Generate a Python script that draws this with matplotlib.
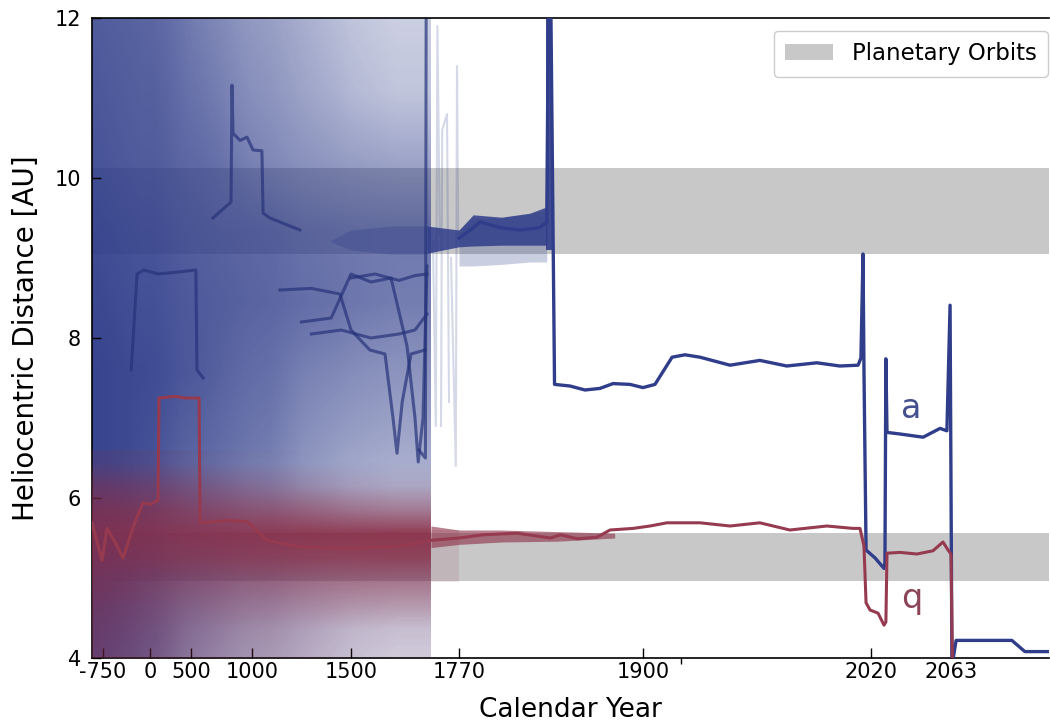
import numpy as np
import matplotlib.pyplot as plt
from matplotlib.patches import Patch
from matplotlib.colors import LinearSegmentedColormap, to_rgb

# Axis is stretched near the present: year -> pixel-ish position anchors
scale_years = [-925, -750, 0, 500, 1000, 1500, 1770, 1900, 2020, 2063, 2115]
scale_pos = [92, 103, 150, 191, 252, 351, 459, 643, 871, 951, 1049]

tick_years = [-750, 0, 500, 1000, 1500, 1770, 1900, 2020, 2063]

# Planetary orbit bands (perihelion, aphelion) [AU]
jupiter_band = (4.96, 5.56)
saturn_band = (9.05, 10.12)

# Nominal semi-major axis a
a_years = [1770, 1778, 1785, 1799, 1813, 1827, 1832, 1833.3, 1834.7, 1837.5,
           1848.4, 1859, 1869.6, 1878.8, 1890.8, 1900, 1906.3, 1911.6, 1915.3, 1922.1,
           1930, 1945.8, 1961.5, 1975.7, 1991.5, 2003.6, 2013.2, 2014.7, 2015.8, 2016.3,
           2017.4, 2022.2, 2027, 2027.5, 2028, 2028.6, 2035.6, 2048, 2057.1, 2060.8,
           2062.5, 2063.5, 2065.7, 2095.3, 2102.2, 2115]
a_vals = [9.25, 9.35, 9.45, 9.38, 9.35, 9.38, 9.45, 12.5, 12.5, 7.42,
          7.40, 7.35, 7.37, 7.43, 7.42, 7.38, 7.42, 7.62, 7.76, 7.79,
          7.76, 7.66, 7.72, 7.65, 7.69, 7.65, 7.66, 7.75, 9.05, 7.6,
          5.35, 5.25, 5.12, 5.2, 7.74, 6.82, 6.80, 6.76, 6.87, 6.84,
          8.41, 3.9, 4.22, 4.22, 4.08, 4.08]

# Nominal perihelion distance q
q_years = [-925, -765, -686, -559, -431, -240, -112, 0, 98, 110, 305, 427, 566, 574,
           820, 967, 1076, 1242, 1495, 1622, 1697, 1770, 1787, 1811, 1834.6, 1841.7,
           1853.7, 1867.5, 1876.7, 1893, 1903.7, 1912.6, 1930, 1945.8, 1961.5, 1977.3,
           1996.8, 2010.5, 2014.2, 2016.3, 2017.4, 2019.5, 2023.8, 2027, 2028, 2028.6,
           2035.6, 2044.7, 2053.3, 2058.7, 2061.4, 2063, 2064, 2115]
q_vals = [5.69, 5.22, 5.62, 5.45, 5.25, 5.7, 5.94, 5.92, 5.97, 7.25, 7.27, 7.25, 7.25, 5.69,
          5.72, 5.7, 5.47, 5.39, 5.37, 5.4, 5.47, 5.50, 5.54, 5.56, 5.5, 5.54,
          5.49, 5.51, 5.6, 5.62, 5.65, 5.69, 5.69, 5.65, 5.69, 5.6,
          5.65, 5.62, 5.62, 5.4, 4.69, 4.6, 4.56, 4.41, 4.45, 5.31,
          5.32, 5.3, 5.34, 5.45, 5.35, 5.3, 3.5, 3.5]

# Density of the clone cloud (0 = none, 1 = solid), 15 equal year columns from -925 to 1700
cloud_span = (-925, 1700)
a_cloud_au = (3.6, 12.4)     # 10 rows, bottom to top
a_density = [
    [0.90, 0.88, 0.85, 0.82, 0.78, 0.75, 0.68, 0.60, 0.54, 0.48, 0.42, 0.38, 0.31, 0.26, 0.20],
    [0.93, 0.92, 0.90, 0.87, 0.83, 0.80, 0.74, 0.68, 0.64, 0.58, 0.52, 0.48, 0.39, 0.33, 0.28],
    [0.95, 0.94, 0.92, 0.90, 0.88, 0.86, 0.80, 0.75, 0.71, 0.66, 0.60, 0.56, 0.46, 0.40, 0.34],
    [0.96, 0.95, 0.94, 0.93, 0.91, 0.90, 0.86, 0.82, 0.80, 0.76, 0.72, 0.68, 0.57, 0.51, 0.45],
    [0.96, 0.95, 0.94, 0.93, 0.93, 0.92, 0.90, 0.87, 0.85, 0.81, 0.77, 0.74, 0.65, 0.61, 0.55],
    [0.94, 0.93, 0.92, 0.91, 0.90, 0.90, 0.88, 0.86, 0.85, 0.83, 0.81, 0.79, 0.75, 0.72, 0.67],
    [0.92, 0.91, 0.90, 0.89, 0.88, 0.88, 0.86, 0.84, 0.82, 0.80, 0.79, 0.77, 0.72, 0.70, 0.68],
    [0.88, 0.87, 0.86, 0.85, 0.84, 0.84, 0.82, 0.79, 0.77, 0.73, 0.67, 0.62, 0.56, 0.52, 0.47],
    [0.86, 0.85, 0.84, 0.83, 0.82, 0.82, 0.79, 0.75, 0.71, 0.66, 0.60, 0.55, 0.47, 0.40, 0.30],
    [0.84, 0.83, 0.82, 0.81, 0.80, 0.79, 0.76, 0.71, 0.66, 0.61, 0.55, 0.50, 0.42, 0.34, 0.25],
]
q_cloud_au = (3.6, 6.6)      # 10 rows, bottom to top
q_density = [
    [0.45, 0.43, 0.40, 0.38, 0.36, 0.35, 0.31, 0.27, 0.25, 0.22, 0.20, 0.19, 0.15, 0.10, 0.07],
    [0.48, 0.46, 0.43, 0.41, 0.39, 0.38, 0.34, 0.30, 0.28, 0.25, 0.23, 0.22, 0.18, 0.13, 0.09],
    [0.52, 0.50, 0.47, 0.45, 0.43, 0.41, 0.38, 0.34, 0.31, 0.29, 0.27, 0.25, 0.21, 0.16, 0.12],
    [0.58, 0.56, 0.54, 0.52, 0.50, 0.48, 0.46, 0.44, 0.42, 0.41, 0.40, 0.39, 0.37, 0.35, 0.33],
    [0.66, 0.65, 0.63, 0.61, 0.59, 0.58, 0.56, 0.55, 0.54, 0.54, 0.53, 0.53, 0.53, 0.52, 0.52],
    [0.76, 0.76, 0.75, 0.75, 0.74, 0.74, 0.74, 0.74, 0.74, 0.75, 0.76, 0.77, 0.78, 0.78, 0.80],
    [0.82, 0.82, 0.82, 0.82, 0.82, 0.82, 0.82, 0.83, 0.84, 0.85, 0.86, 0.87, 0.88, 0.88, 0.90],
    [0.72, 0.72, 0.71, 0.70, 0.70, 0.70, 0.68, 0.66, 0.64, 0.62, 0.60, 0.58, 0.55, 0.50, 0.45],
    [0.50, 0.50, 0.48, 0.46, 0.45, 0.44, 0.42, 0.40, 0.37, 0.33, 0.30, 0.26, 0.20, 0.15, 0.10],
    [0.15, 0.15, 0.14, 0.13, 0.12, 0.12, 0.10, 0.08, 0.06, 0.04, 0.03, 0.02, 0.01, 0.00, 0.00],
]

# Narrow clone bundles (years, lower, upper, alpha)
a_bundles = [
    ([1400, 1500, 1600, 1690], [9.2, 9.1, 9.05, 9.05], [9.22, 9.35, 9.4, 9.4], 0.3),
    ([1770, 1780, 1800, 1820, 1832], [8.9, 8.9, 8.92, 8.95, 8.95], [9.35, 9.5, 9.5, 9.55, 9.6], 0.25),
    ([1690, 1770, 1780, 1800, 1820, 1832], [9.06, 9.14, 9.15, 9.16, 9.16, 9.16], [9.4, 9.35, 9.54, 9.51, 9.56, 9.64], 0.85),
    ([1831.5, 1835.5], [9.1, 9.1], [12.5, 12.5], 0.9),
]
q_bundles = [
    ([1700, 1770], [4.95, 4.95], [5.6, 5.6], 0.12),
    ([1700, 1770, 1800, 1840, 1880], [5.38, 5.42, 5.45, 5.46, 5.5], [5.65, 5.6, 5.6, 5.58, 5.56], 0.6),
]

# A few individual clones that stand out in the cloud
clone_lines = [
    ([680, 828, 836, 844, 902, 959, 1005, 1050, 1056, 1091, 1242],
     [9.5, 9.7, 11.16, 10.56, 10.47, 10.51, 10.35, 10.34, 9.56, 9.5, 9.35]),
    ([-300, -207, -100, 100, 300, 540, 549, 600],
     [7.6, 8.8, 8.85, 8.8, 8.82, 8.85, 7.6, 7.5]),
    ([1141, 1300, 1444, 1500, 1547, 1585, 1605, 1615, 1628, 1650, 1685],
     [8.6, 8.62, 8.55, 8.1, 7.85, 7.8, 7.0, 6.56, 7.2, 7.8, 7.85]),
    ([1250, 1400, 1500, 1550, 1600, 1640, 1660, 1668, 1680, 1690],
     [8.2, 8.25, 8.8, 8.7, 8.75, 7.9, 7.0, 6.45, 7.0, 8.9]),
    ([1300, 1450, 1550, 1620, 1660, 1690],
     [8.05, 8.1, 8.0, 8.05, 8.1, 8.3]),
    ([1500, 1560, 1620, 1660, 1690],
     [8.75, 8.8, 8.72, 8.78, 8.8]),
    ([1670, 1686, 1688, 1700], [6.6, 6.5, 12.5, 12.5]),
]
faint_lines = [
    ([1705, 1712, 1716, 1722], [9.2, 6.9, 11.9, 9.3]),
    ([1725, 1728, 1740, 1745], [6.9, 10.6, 10.8, 7.2]),
    ([1750, 1762, 1765, 1768], [9.0, 6.4, 11.4, 9.3]),
]

blue = '#2f3d8a'
red = '#8b2d45'
grey = '#c8c8c8'

plt.rcParams['font.family'] = ['DejaVu Sans']

def fwd(x):
    return np.interp(x, scale_years, scale_pos)

def inv(p):
    return np.interp(p, scale_pos, scale_years)

def fade_cmap(color):
    r, g, b = to_rgb(color)
    return LinearSegmentedColormap.from_list('fade', [(r, g, b, 0), (r, g, b, 1)])

fig = plt.figure(figsize=(10.5, 7.26), dpi=100)
ax = fig.add_axes([92/1050, 68/726, 957/1050, 640/726])
ax.set_xscale('function', functions=(fwd, inv))

# Planetary orbits
ax.axhspan(*jupiter_band, color=grey, zorder=0, lw=0)
ax.axhspan(*saturn_band, color=grey, zorder=0, lw=0)

# Clone clouds
ax.imshow(np.array(a_density), origin='lower', aspect='auto', interpolation='bilinear',
          extent=(*cloud_span, *a_cloud_au), cmap=fade_cmap(blue), vmin=0, vmax=1, zorder=1)
for yrs, lo, hi, al in a_bundles:
    ax.fill_between(yrs, lo, hi, color=blue, alpha=al, lw=0, zorder=2)
for yrs, vals in clone_lines:
    ax.plot(yrs, vals, color='#26337a', lw=2.2, alpha=0.7, zorder=2)
for yrs, vals in faint_lines:
    ax.plot(yrs, vals, color=blue, lw=1.5, alpha=0.2, zorder=2)

ax.imshow(np.array(q_density), origin='lower', aspect='auto', interpolation='bilinear',
          extent=(*cloud_span, *q_cloud_au), cmap=fade_cmap(red), vmin=0, vmax=1, zorder=3)
for yrs, lo, hi, al in q_bundles:
    ax.fill_between(yrs, lo, hi, color=red, alpha=al, lw=0, zorder=3)

# Nominal orbit
ax.plot(a_years, a_vals, color=blue, lw=2.4, zorder=4)
ax.plot(q_years, q_vals, color='#963a50', lw=2.2, zorder=4)

ax.text(2041.5, 7.0, 'a', color='#44508f', fontsize=24, ha='center', va='baseline')
ax.text(2042, 4.62, 'q', color='#8c4458', fontsize=24, ha='center', va='baseline')

ax.set_xlim(-925, 2115)
ax.set_ylim(4, 12)
ax.set_xticks(tick_years)
ax.set_xticklabels([str(t) for t in tick_years])
ax.set_xticks([1920], minor=True)
ax.set_yticks([4, 6, 8, 10, 12])
ax.tick_params(axis='x', which='major', direction='in', length=7, width=1, labelsize=15, pad=3)
ax.tick_params(axis='x', which='minor', direction='out', length=4, width=1)
ax.tick_params(axis='y', direction='in', length=6.5, width=1, labelsize=15, pad=8)
ax.spines['right'].set_visible(False)
for s in ['left', 'top', 'bottom']:
    ax.spines[s].set_linewidth(1.2)
    ax.spines[s].set_color('black')

ax.set_xlabel('Calendar Year', fontsize=19, labelpad=11)
ax.set_ylabel('Heliocentric Distance [AU]', fontsize=20, labelpad=10)

ax.legend(handles=[Patch(facecolor=grey, edgecolor='none', label='Planetary Orbits')],
          loc='upper right', bbox_to_anchor=(0.999, 0.98), fontsize=16.5,
          handlelength=2.1, handleheight=0.7, borderaxespad=0, borderpad=0.5,
          edgecolor='#cccccc', framealpha=1)

fig.savefig('out.png', dpi=100)
